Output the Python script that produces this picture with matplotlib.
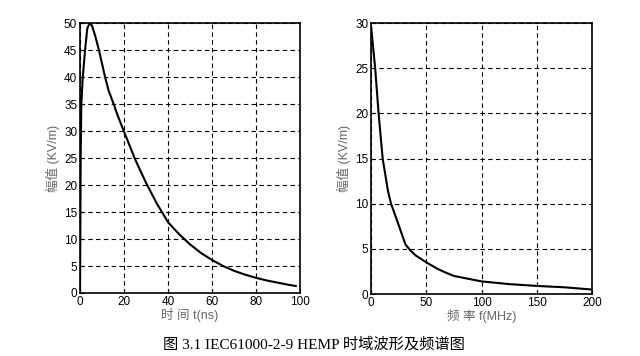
import matplotlib.pyplot as plt

plt.rcParams['font.family'] = ['Liberation Sans', 'Noto Sans CJK SC']

# time-domain waveform (ns, kV/m)
t_ns = [0, 0.3, 0.6, 1.25, 2.3, 3.3, 4.4, 5.5, 7, 8.6, 10, 11.4, 13, 15.3, 17,
        20, 25, 30, 35, 40, 45, 50, 55, 60, 65, 70, 75, 80, 85, 90, 95, 98]
e_time = [0, 25, 35, 40, 45, 49, 50, 49.5, 47.5, 45, 42.5, 40, 37.5, 35, 33,
          29.9, 24.8, 20.4, 16.5, 13.1, 10.9, 9.0, 7.4, 6.1, 5.0, 4.1, 3.4, 2.8,
          2.3, 1.9, 1.5, 1.3]

# spectrum (MHz, kV/m)
f_mhz = [0, 3.6, 6.7, 10.4, 15.2, 18, 25, 31, 35, 40, 50, 60, 67, 75, 100, 125,
         150, 175, 200]
e_freq = [29.5, 25, 20, 15, 11.4, 10, 7.6, 5.5, 4.9, 4.3, 3.5, 2.8, 2.4, 2.0,
          1.4, 1.1, 0.9, 0.75, 0.5]

fig = plt.figure(figsize=(6.4, 3.56), dpi=100)
ax1 = fig.add_axes([0.125, 0.177, 0.344, 0.758])
ax2 = fig.add_axes([0.580, 0.174, 0.345, 0.761])

ax1.plot(t_ns, e_time, color='black', lw=1.5)
ax1.set_xlim(0, 100)
ax1.set_ylim(0, 50)
ax1.set_xticks(range(0, 101, 20))
ax1.set_yticks(range(0, 51, 5))
ax1.set_xlabel('时 间 t(ns)', fontsize=9, color='#666666', labelpad=0)
ax1.set_ylabel('幅值 (KV/m)', fontsize=9, color='#666666', labelpad=3)

ax2.plot(f_mhz, e_freq, color='black', lw=1.5)
ax2.set_xlim(0, 200)
ax2.set_ylim(0, 30)
ax2.set_xticks(range(0, 201, 50))
ax2.set_yticks(range(0, 31, 5))
ax2.set_xlabel('频 率 f(MHz)', fontsize=9, color='#666666', labelpad=0)
ax2.set_ylabel('幅值 (KV/m)', fontsize=9, color='#666666', labelpad=3)

for ax in (ax1, ax2):
    ax.grid(True, color='black', linestyle=(0, (4, 3)), linewidth=0.8)
    ax.tick_params(direction='in', length=3, labelsize=8.5, pad=2)
    for s in ax.spines.values():
        s.set_linewidth(1.2)

fig.text(0.49, 0.022, '图 3.1 IEC61000-2-9 HEMP 时域波形及频谱图', ha='center',
         fontsize=11, family=['Liberation Serif', 'Noto Sans CJK SC'])

fig.savefig('out.png', dpi=100)
